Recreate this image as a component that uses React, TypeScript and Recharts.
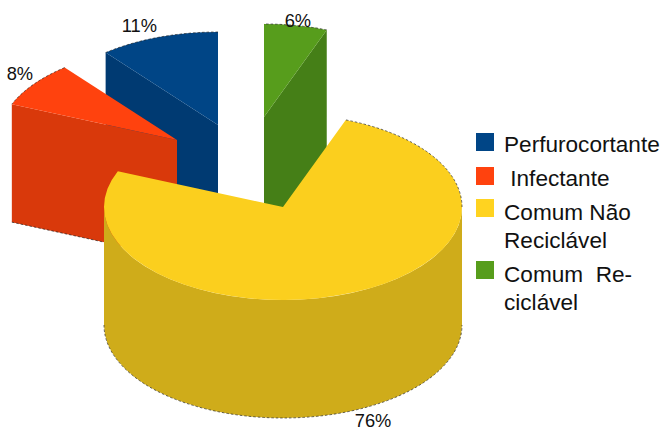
/**
 * Exploded 3D pie, drawn from Recharts' own sector angles with a custom shape.
 */
import { PieChart, Pie, Legend } from 'recharts';

const categories = ['Comum Re-ciclável', 'Perfurocortante', 'Infectante', 'Comum Não Reciclável'];
const shares = [5.7, 10.8, 7.9, 75.6];
const topColors = ['#579d1c', '#004586', '#ff420e', '#fbcf1e'];
const wallColors = ['#457f17', '#003a72', '#d9390b', '#cfac1a'];

const legendLines = [['Perfurocortante'], [' Infectante'], ['Comum Não', 'Reciclável'], ['Comum  Re-', 'ciclável']];
const legendColors = ['#004586', '#ff420e', '#ffd320', '#579d1c'];
const legendTops = [133, 167, 199, 261];
const legendTextTops = [131, 165, 199, 261];

// how far each slice sits from the pie centre, and where its % label goes
const explode: Record<string, [number, number]> = {
  'Comum Re-ciclável': [-19, -90],
  Perfurocortante: [-65, -82],
  Infectante: [-106, -67],
  'Comum Não Reciclável': [0, 0],
};
const labelNudge: Record<string, [number, number]> = {
  'Comum Re-ciclável': [2, -5],
  Perfurocortante: [-19, -12],
  Infectante: [-14, -11],
  'Comum Não Reciclável': [19, 128],
};

const data = categories.map((name, i) => ({
  name,
  value: shares[i],
  fill: topColors[i],
  wall: wallColors[i],
}));

const RX = 179;
const RATIO = 93 / 179;
const DEPTH = 118;
const FONT = '"Liberation Sans", Arial, sans-serif';
const EDGE = { fill: 'none', stroke: '#222', strokeWidth: 0.9, strokeDasharray: '2.5 2', strokeOpacity: 0.75 };

const rad = (a: number) => (a * Math.PI) / 180;

function Slice3D(props: any) {
  const { cx, cy, outerRadius, startAngle, endAngle, name, fill, wall } = props;
  const [ox, oy] = explode[name];
  const vx = cx + ox;
  const vy = cy + oy;
  const ry = outerRadius * RATIO;
  const at = (a: number, drop = 0) =>
    `${vx + outerRadius * Math.cos(rad(a))} ${vy - ry * Math.sin(rad(a)) + drop}`;
  const arc = (to: number, large: boolean, sweep: number, drop = 0) =>
    `A ${outerRadius} ${ry} 0 ${large ? 1 : 0} ${sweep} ${at(to, drop)}`;
  const large = endAngle - startAngle > 180;

  const face = (a: number) =>
    `M ${vx} ${vy} L ${at(a)} L ${at(a, DEPTH)} L ${vx} ${vy + DEPTH} Z`;

  const frontFrom = Math.max(startAngle, 180);
  const frontTo = Math.min(endAngle, 360);
  const hasFront = frontTo > frontFrom;

  return (
    <g>
      {Math.cos(rad(endAngle)) < -0.01 && <path d={face(endAngle)} fill={wall} />}
      {Math.cos(rad(startAngle)) > 0.01 && <path d={face(startAngle)} fill={wall} />}
      {Math.cos(rad(endAngle)) < -0.01 && (
        <path d={`M ${at(endAngle, DEPTH)} L ${vx} ${vy + DEPTH}`} {...EDGE} />
      )}
      {hasFront && (
        <>
          <path
            d={`M ${at(frontFrom)} ${arc(frontTo, false, 0)} L ${at(frontTo, DEPTH)} ${arc(frontFrom, false, 1, DEPTH)} Z`}
            fill={wall}
          />
          <path d={`M ${at(frontFrom, DEPTH)} ${arc(frontTo, false, 0, DEPTH)}`} {...EDGE} />
        </>
      )}
      <path d={`M ${vx} ${vy} L ${at(startAngle)} ${arc(endAngle, large, 0)} Z`} fill={fill} />
      {hasFront ? (
        <path d={`M ${at(360)} ${arc(endAngle, false, 0)}`} {...EDGE} />
      ) : (
        <path d={`M ${at(startAngle)} ${arc(endAngle, large, 0)}`} {...EDGE} />
      )}
    </g>
  );
}

function percentLabel(props: any) {
  const { cx, cy, outerRadius, midAngle, percent, name } = props;
  const [ox, oy] = explode[name];
  const [nx, ny] = labelNudge[name];
  const x = cx + ox + outerRadius * Math.cos(rad(midAngle)) + nx;
  const y = cy + oy - outerRadius * RATIO * Math.sin(rad(midAngle)) + ny;
  return (
    <text x={x} y={y} textAnchor="middle" dominantBaseline="central" fontSize={18.3} fontFamily={FONT} fill="#111">
      {`${Math.round(percent * 100)}%`}
    </text>
  );
}

function LegendBlock() {
  return (
    <div style={{ position: 'relative', width: 663, height: 430, fontFamily: FONT, fontSize: 22.6, color: '#111', lineHeight: '28px' }}>
      {legendLines.map((lines, i) => (
        <div key={i}>
          <div style={{ position: 'absolute', left: 476, top: legendTops[i], width: 18, height: 18, background: legendColors[i] }} />
          <div style={{ position: 'absolute', left: 504, top: legendTextTops[i], whiteSpace: 'pre' }}>
            {lines.join('\n')}
          </div>
        </div>
      ))}
    </div>
  );
}

export default function App() {
  return (
    <div style={{ position: 'absolute', left: 0, top: 0, width: 663, height: 430, background: '#fff' }}>
      <PieChart width={663} height={430} margin={{ top: 0, right: 0, bottom: 0, left: 0 }}>
        <Pie
          data={data}
          dataKey="value"
          nameKey="name"
          cx={283}
          cy={207}
          innerRadius={0}
          outerRadius={RX}
          startAngle={69.48}
          endAngle={429.48}
          paddingAngle={0}
          stroke="none"
          shape={Slice3D}
          label={percentLabel}
          labelLine={false}
          isAnimationActive={false}
        />
        <Legend content={<LegendBlock />} wrapperStyle={{ left: 0, top: 0, width: 663, height: 430, pointerEvents: 'none' }} />
      </PieChart>
    </div>
  );
}
